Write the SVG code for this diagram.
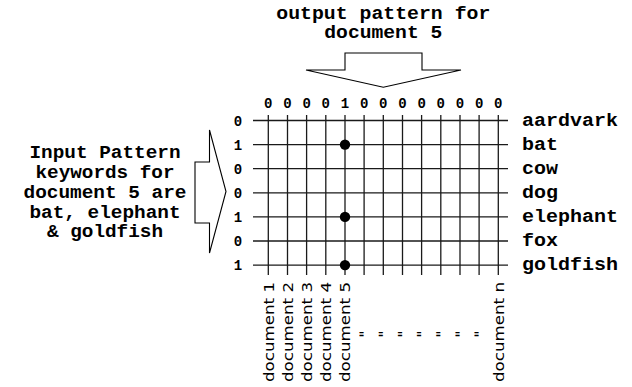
<svg xmlns="http://www.w3.org/2000/svg" width="632" height="387" viewBox="0 0 632 387">
<style>
.mono{font-family:"Liberation Mono","Courier New",monospace;font-weight:bold;fill:#000}
.big{font-size:17.5px}
.dig{font-size:14px}
.doc{font-family:"DejaVu Sans",Verdana,sans-serif;font-size:14.5px;fill:#000}
.grid line{stroke:#1a1a1a;stroke-width:1.3}
.blk{fill:#fff;stroke:#000;stroke-width:1.1;stroke-linejoin:miter}
.sep{font-family:"DejaVu Sans",sans-serif;font-weight:bold;font-size:12px;fill:#000}
</style>
<rect width="632" height="387" fill="#fff"/>

<g id="title" text-anchor="middle">
<text class="mono big" x="383.3" y="19" textLength="214" lengthAdjust="spacingAndGlyphs">output pattern for</text>
<text class="mono big" x="383.3" y="38" textLength="118" lengthAdjust="spacingAndGlyphs">document 5</text>
</g>

<g id="input-text" class="mono big" text-anchor="middle">
<text x="105" y="158" textLength="151" lengthAdjust="spacingAndGlyphs">Input Pattern</text>
<text x="105" y="178" textLength="139" lengthAdjust="spacingAndGlyphs">keywords for</text>
<text x="105" y="198" textLength="163" lengthAdjust="spacingAndGlyphs">document 5 are</text>
<text x="105" y="217.5" textLength="151" lengthAdjust="spacingAndGlyphs">bat, elephant</text>
<text x="105" y="237" textLength="116" lengthAdjust="spacingAndGlyphs">&amp; goldfish</text>
</g>

<g id="connectors">
<polygon id="output-arrow" class="blk" points="345,53 422,53 422,70 461,70 383.3,87.3 306,70 345,70"/>
<polygon id="input-arrow" class="blk" points="209.5,130 226,191.5 209.5,253 209.5,223 195,223 195,162 209.5,162"/>
</g>

<g id="grid" class="grid">
<line x1="253" y1="120.5" x2="508" y2="120.5"/>
<line x1="253" y1="144.6" x2="508" y2="144.6"/>
<line x1="253" y1="168.7" x2="508" y2="168.7"/>
<line x1="253" y1="192.8" x2="508" y2="192.8"/>
<line x1="253" y1="216.9" x2="508" y2="216.9"/>
<line x1="253" y1="241" x2="508" y2="241"/>
<line x1="253" y1="265.1" x2="508" y2="265.1"/>
<line x1="268.3" y1="115" x2="268.3" y2="275"/>
<line x1="287.5" y1="115" x2="287.5" y2="275"/>
<line x1="306.6" y1="115" x2="306.6" y2="275"/>
<line x1="325.8" y1="115" x2="325.8" y2="275"/>
<line x1="345" y1="115" x2="345" y2="275"/>
<line x1="364.1" y1="115" x2="364.1" y2="275"/>
<line x1="383.3" y1="115" x2="383.3" y2="275"/>
<line x1="402.5" y1="115" x2="402.5" y2="275"/>
<line x1="421.6" y1="115" x2="421.6" y2="275"/>
<line x1="440.8" y1="115" x2="440.8" y2="275"/>
<line x1="460" y1="115" x2="460" y2="275"/>
<line x1="479.1" y1="115" x2="479.1" y2="275"/>
<line x1="498.3" y1="115" x2="498.3" y2="275"/>
</g>

<g id="active-cells" fill="#000">
<circle cx="345" cy="144.6" r="5.2"/>
<circle cx="345" cy="216.9" r="5.2"/>
<circle cx="345" cy="265.1" r="5.2"/>
</g>

<g id="output-pattern" class="mono dig" text-anchor="middle">
<text x="268.3" y="108">0</text>
<text x="287.5" y="108">0</text>
<text x="306.6" y="108">0</text>
<text x="325.8" y="108">0</text>
<text x="345" y="108">1</text>
<text x="364.1" y="108">0</text>
<text x="383.3" y="108">0</text>
<text x="402.5" y="108">0</text>
<text x="421.6" y="108">0</text>
<text x="440.8" y="108">0</text>
<text x="460" y="108">0</text>
<text x="479.1" y="108">0</text>
<text x="498.3" y="108">0</text>
</g>

<g id="input-pattern" class="mono dig" text-anchor="middle">
<text x="238" y="125.5">0</text>
<text x="238" y="149.6">1</text>
<text x="238" y="173.7">0</text>
<text x="238" y="197.8">0</text>
<text x="238" y="221.9">1</text>
<text x="238" y="246">0</text>
<text x="238" y="270.1">1</text>
</g>

<g id="keywords" class="mono big">
<text x="522" y="125.5" textLength="96" lengthAdjust="spacingAndGlyphs">aardvark</text>
<text x="522" y="149.6" textLength="36" lengthAdjust="spacingAndGlyphs">bat</text>
<text x="522" y="173.7" textLength="36" lengthAdjust="spacingAndGlyphs">cow</text>
<text x="522" y="197.8" textLength="36" lengthAdjust="spacingAndGlyphs">dog</text>
<text x="522" y="221.9" textLength="96" lengthAdjust="spacingAndGlyphs">elephant</text>
<text x="522" y="246" textLength="36" lengthAdjust="spacingAndGlyphs">fox</text>
<text x="522" y="270.1" textLength="96" lengthAdjust="spacingAndGlyphs">goldfish</text>
</g>

<g id="documents" class="doc">
<text transform="translate(273.5,382) rotate(-90)" textLength="100" lengthAdjust="spacingAndGlyphs">document 1</text>
<text transform="translate(292.7,382) rotate(-90)" textLength="100" lengthAdjust="spacingAndGlyphs">document 2</text>
<text transform="translate(311.8,382) rotate(-90)" textLength="100" lengthAdjust="spacingAndGlyphs">document 3</text>
<text transform="translate(331,382) rotate(-90)" textLength="100" lengthAdjust="spacingAndGlyphs">document 4</text>
<text transform="translate(350.2,382) rotate(-90)" textLength="100" lengthAdjust="spacingAndGlyphs">document 5</text>
<text transform="translate(503.5,382) rotate(-90)" textLength="100" lengthAdjust="spacingAndGlyphs">document n</text>
</g>

<g id="ellipsis" class="sep" text-anchor="middle">
<text transform="translate(361.5,337.5) scale(0.55,1)">=</text>
<text transform="translate(380.7,337.5) scale(0.55,1)">=</text>
<text transform="translate(399.9,337.5) scale(0.55,1)">=</text>
<text transform="translate(419,337.5) scale(0.55,1)">=</text>
<text transform="translate(438.2,337.5) scale(0.55,1)">=</text>
<text transform="translate(457.4,337.5) scale(0.55,1)">=</text>
<text transform="translate(476.5,337.5) scale(0.55,1)">=</text>
</g>
</svg>
